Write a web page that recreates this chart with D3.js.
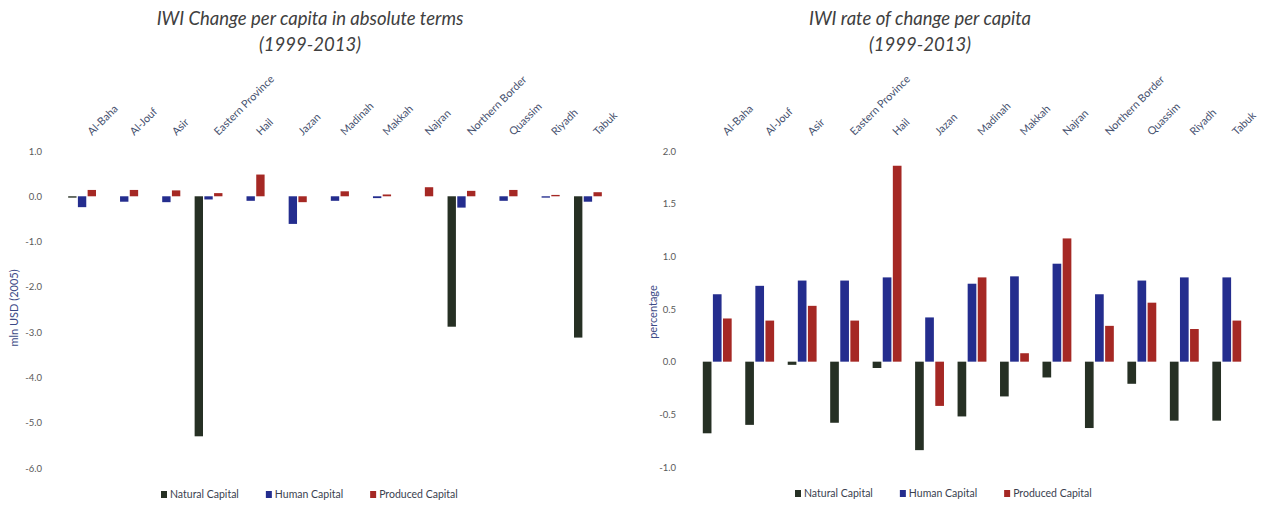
<!DOCTYPE html>
<html>
<head>
<meta charset="utf-8">
<script src="https://cdn.jsdelivr.net/npm/d3@7/dist/d3.min.js"></script>
<style>
  html, body { margin: 0; padding: 0; background: #ffffff; }
  svg { display: block; font-family: Lato, "Open Sans", "DejaVu Sans", sans-serif; }
</style>
</head>
<body>
<svg id="chart" width="1264" height="505"></svg>
<script>
// Regions of Saudi Arabia
const regions = ["Al-Baha", "Al-Jouf", "Asir", "Eastern Province", "Hail", "Jazan", "Madinah",
                 "Makkah", "Najran", "Northern Border", "Quassim", "Riyadh", "Tabuk"];

const seriesNames = ["Natural Capital", "Human Capital", "Produced Capital"];

// IWI change per capita, absolute terms (mln USD 2005)
const absNatural   = [-0.03, 0, 0, -5.30, 0, 0, 0, 0, 0, -2.88, 0, 0, -3.12];
const absHuman     = [-0.24, -0.12, -0.13, -0.07, -0.10, -0.61, -0.10, -0.04, 0, -0.25, -0.10, -0.03, -0.12];
const absProduced  = [0.14, 0.14, 0.13, 0.07, 0.48, -0.13, 0.11, 0.04, 0.20, 0.12, 0.14, 0.03, 0.09];

// IWI rate of change per capita (percentage)
const rateNatural  = [-0.68, -0.60, -0.03, -0.58, -0.06, -0.84, -0.52, -0.33, -0.15, -0.63, -0.21, -0.56, -0.56];
const rateHuman    = [0.64, 0.72, 0.77, 0.77, 0.80, 0.42, 0.74, 0.81, 0.93, 0.64, 0.77, 0.80, 0.80];
const rateProduced = [0.41, 0.39, 0.53, 0.39, 1.86, -0.42, 0.80, 0.08, 1.17, 0.34, 0.56, 0.31, 0.39];

const absTicks  = [1, 0, -1, -2, -3, -4, -5, -6];
const rateTicks = [2, 1.5, 1, 0.5, 0, -0.5, -1];

const colors = ["#263024", "#242d8e", "#a52824"];

const svg = d3.select("#chart");

function drawPanel(cfg) {
  const g = svg.append("g");

  const x = d3.scaleBand().domain(regions)
    .range([cfg.x0, cfg.x1]).paddingInner(cfg.pad).paddingOuter(cfg.pad / 2);
  const xs = d3.scaleBand().domain(seriesNames)
    .range([0, x.bandwidth()]).paddingInner(0.14);
  const y = d3.scaleLinear().domain(cfg.domain).range(cfg.yRange);

  // Title (two lines)
  const title = g.append("text")
    .attr("x", cfg.titleX).attr("y", 25)
    .attr("text-anchor", "middle")
    .attr("font-style", "italic")
    .attr("font-size", 18.5)
    .attr("fill", "#404040");
  title.append("tspan").attr("x", cfg.titleX).attr("dy", 0).text(cfg.title);
  title.append("tspan").attr("x", cfg.titleX).attr("dy", 26).text("(1999-2013)");

  // Value axis: labels only
  const yAxis = d3.axisLeft(y).tickValues(cfg.ticks).tickSize(0).tickPadding(0)
    .tickFormat(d => d.toFixed(1));
  const ya = g.append("g").attr("transform", `translate(${cfg.tickX},0)`).call(yAxis);
  ya.select(".domain").remove();
  ya.selectAll("text")
    .attr("font-family", "Lato, 'Open Sans', sans-serif")
    .attr("font-size", 9.5).attr("fill", "#595959");

  // Axis title
  g.append("text")
    .attr("transform", `translate(${cfg.yTitleX},${cfg.yTitleY}) rotate(-90)`)
    .attr("text-anchor", "middle")
    .attr("font-size", 11)
    .attr("fill", "#3c4a86")
    .text(cfg.yTitle);

  // Category labels along the top, slanted
  g.append("g").selectAll("text").data(regions).join("text")
    .attr("transform", d => `translate(${x(d) + x.bandwidth() / 2 + 10},136) rotate(-45)`)
    .attr("text-anchor", "start")
    .attr("font-size", 10.8)
    .attr("fill", "#45506e")
    .text(d => d);

  // Bars
  const rows = regions.map((r, i) => ({ region: r, values: cfg.series.map(s => s[i]) }));
  const groups = g.append("g").selectAll("g").data(rows).join("g")
    .attr("transform", d => `translate(${x(d.region)},0)`);
  groups.selectAll("rect")
    .data(d => d.values.map((v, k) => ({ v, k })))
    .join("rect")
    .attr("x", d => xs(seriesNames[d.k]))
    .attr("width", xs.bandwidth())
    .attr("y", d => Math.min(y(d.v), y(0)))
    .attr("height", d => Math.abs(y(d.v) - y(0)))
    .attr("fill", d => colors[d.k]);

  // Legend
  const leg = g.append("g").attr("transform", `translate(0,${cfg.legendY})`);
  let lx = cfg.legendX;
  seriesNames.forEach((name, k) => {
    leg.append("rect").attr("x", lx).attr("y", -7).attr("width", 6).attr("height", 7)
      .attr("fill", colors[k]);
    const t = leg.append("text").attr("x", lx + 9).attr("y", 0)
      .attr("font-size", 10.5).attr("fill", "#3a3f4f").text(name);
    lx += 9 + t.node().getComputedTextLength() + 27;
  });
}

drawPanel({
  x0: 61, x1: 609, pad: 0.34,
  domain: [1, -6], yRange: [151, 468],
  ticks: absTicks, tickX: 42,
  series: [absNatural, absHuman, absProduced],
  title: "IWI Change per capita in absolute terms", titleX: 310,
  yTitle: "mln USD (2005)", yTitleX: 18, yTitleY: 308,
  legendY: 498, legendX: 161
});

drawPanel({
  x0: 696, x1: 1248, pad: 0.32,
  domain: [2, -1], yRange: [151, 467],
  ticks: rateTicks, tickX: 676,
  series: [rateNatural, rateHuman, rateProduced],
  title: "IWI rate of change per capita", titleX: 920,
  yTitle: "percentage", yTitleX: 657, yTitleY: 312,
  legendY: 497, legendX: 795
});
</script>
</body>
</html>
